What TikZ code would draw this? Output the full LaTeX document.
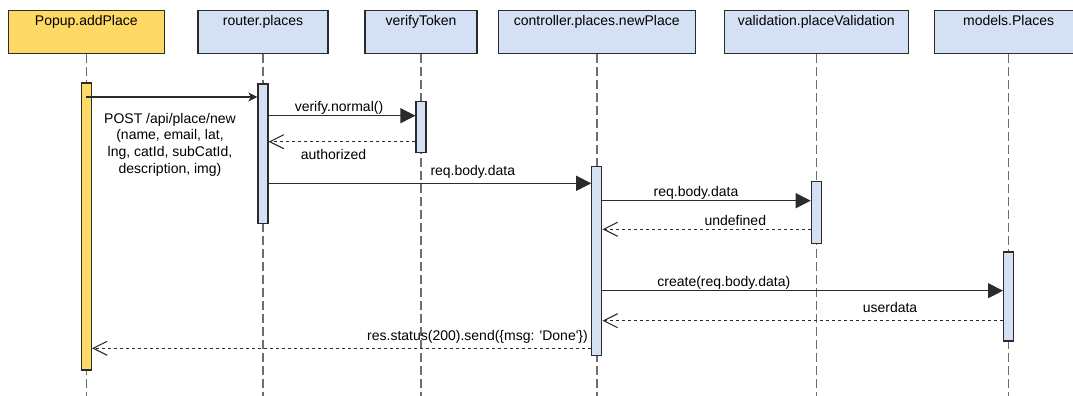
\documentclass[tikz,border=0pt]{standalone}
\usepackage{fontspec}
\setmainfont{Liberation Sans}
\usetikzlibrary{arrows.meta}

\definecolor{hdrYellow}{HTML}{FFD966}
\definecolor{hdrBlue}{HTML}{D4E1F5}
\definecolor{edgeGray}{HTML}{2B2B2B}
\definecolor{lifeGray}{HTML}{6E6E6E}

\begin{document}
\begin{tikzpicture}[x=1pt,y=-1pt,
  font=\fontsize{14}{16.7}\selectfont,
  header/.style={draw=edgeGray, line width=1.2pt, inner sep=0pt, anchor=north,
    minimum height=42.7pt, text height=15pt, text depth=27.7pt},
  act/.style={draw=edgeGray, line width=1.2pt, fill=hdrBlue, inner sep=0pt, minimum width=10pt},
  life/.style={draw=lifeGray, line width=1.5pt, dash pattern=on 9pt off 4pt},
  call/.style={draw=edgeGray, line width=1.2pt, -{Triangle[length=15pt,width=15pt]}},
  firstcall/.style={draw=edgeGray, line width=1.2pt, -{Stealth[length=9pt,width=9pt,inset=2.5pt]}},
  reply/.style={draw=edgeGray, line width=1.1pt, dash pattern=on 3pt off 3pt,
    -{Straight Barb[length=14pt,width=14pt]}},
  msg/.style={anchor=base, inner sep=0pt},
]
\clip (0,0) rectangle (1073,396);

% participants
\node[header, fill=hdrYellow, minimum width=156pt] (hPopup) at (86.3,10) {Popup.addPlace};
\node[header, fill=hdrBlue, minimum width=130pt] (hRouter) at (263,10) {router.places};
\node[header, fill=hdrBlue, minimum width=112pt] (hVerify) at (421,10) {verifyToken};
\node[header, fill=hdrBlue, minimum width=197pt] (hCtrl) at (596.8,10) {controller.places.newPlace};
\node[header, fill=hdrBlue, minimum width=184pt] (hValid) at (816.3,10) {validation.placeValidation};
\node[header, fill=hdrBlue, minimum width=148pt] (hModel) at (1008.6,10) {models.Places};

% lifelines
\coordinate (floor) at (0,400);
\foreach \h in {hPopup,hRouter,hVerify,hCtrl,hValid,hModel}
  \draw[life] (\h.south) -- (\h.south |- floor);

% activation bars
\node[act, fill=hdrYellow, minimum height=287pt] (aPopup) at (hPopup.south |- 0,226.5) {};
\node[act, minimum height=139.3pt] (aRouter) at (hRouter.south |- 0,153.7) {};
\node[act, minimum height=50.6pt] (aVerify) at (hVerify.south |- 0,127) {};
\node[act, minimum height=189pt] (aCtrl) at (hCtrl.south |- 0,261.2) {};
\node[act, minimum height=62pt] (aValid) at (hValid.south |- 0,212.7) {};
\node[act, minimum height=89pt] (aModel) at (hModel.south |- 0,296.5) {};

% message rows
\coordinate (m1) at (0,97);
\coordinate (m2) at (0,115.7);
\coordinate (m3) at (0,141.7);
\coordinate (m4) at (0,183.3);
\coordinate (m5) at (0,200.7);
\coordinate (m6) at (0,229.3);
\coordinate (m7) at (0,290.7);
\coordinate (m8) at (0,320.7);
\coordinate (m9) at (0,348.3);

% messages
\draw[firstcall] (aPopup.center |- m1) -- (aRouter.west |- m1);
\draw[call] (aRouter.east |- m2) -- (aVerify.west |- m2);
\draw[reply] (aVerify.west |- m3) -- (aRouter.east |- m3);
\draw[call] (aRouter.east |- m4) -- (aCtrl.west |- m4);
\draw[call] (aCtrl.east |- m5) -- (aValid.west |- m5);
\draw[reply] (aValid.west |- m6) -- (aCtrl.east |- m6);
\draw[call] (aCtrl.east |- m7) -- (aModel.west |- m7);
\draw[reply] (aModel.west |- m8) -- (aCtrl.east |- m8);
\draw[reply] (aCtrl.west |- m9) -- (aPopup.east |- m9);

% message labels (a multi-line node sits on the baseline of its last line)
\node[msg, align=center] (tPost) at (170,173.3)
  {POST /api/place/new\\(name, email, lat,\\lng, catId, subCatId,\\description, img)};
\node[msg] (tVerify) at (339,111) {verify.normal()};
\node[msg] (tAuth) at (333.5,159) {authorized};
\node[msg] (tBody1) at (472.8,175) {req.body.data};
\node[msg] (tBody2) at (696,196) {req.body.data};
\node[msg] (tUndef) at (735.3,225) {undefined};
\node[msg] (tCreate) at (723.8,286.7) {create(req.body.data)};
\node[msg] (tUser) at (890,312.7) {userdata};
\node[msg] (tDone) at (477.5,340.7) {res.status(200).send(\{msg: \textquotesingle Done\textquotesingle\})};
\end{tikzpicture}
\end{document}
